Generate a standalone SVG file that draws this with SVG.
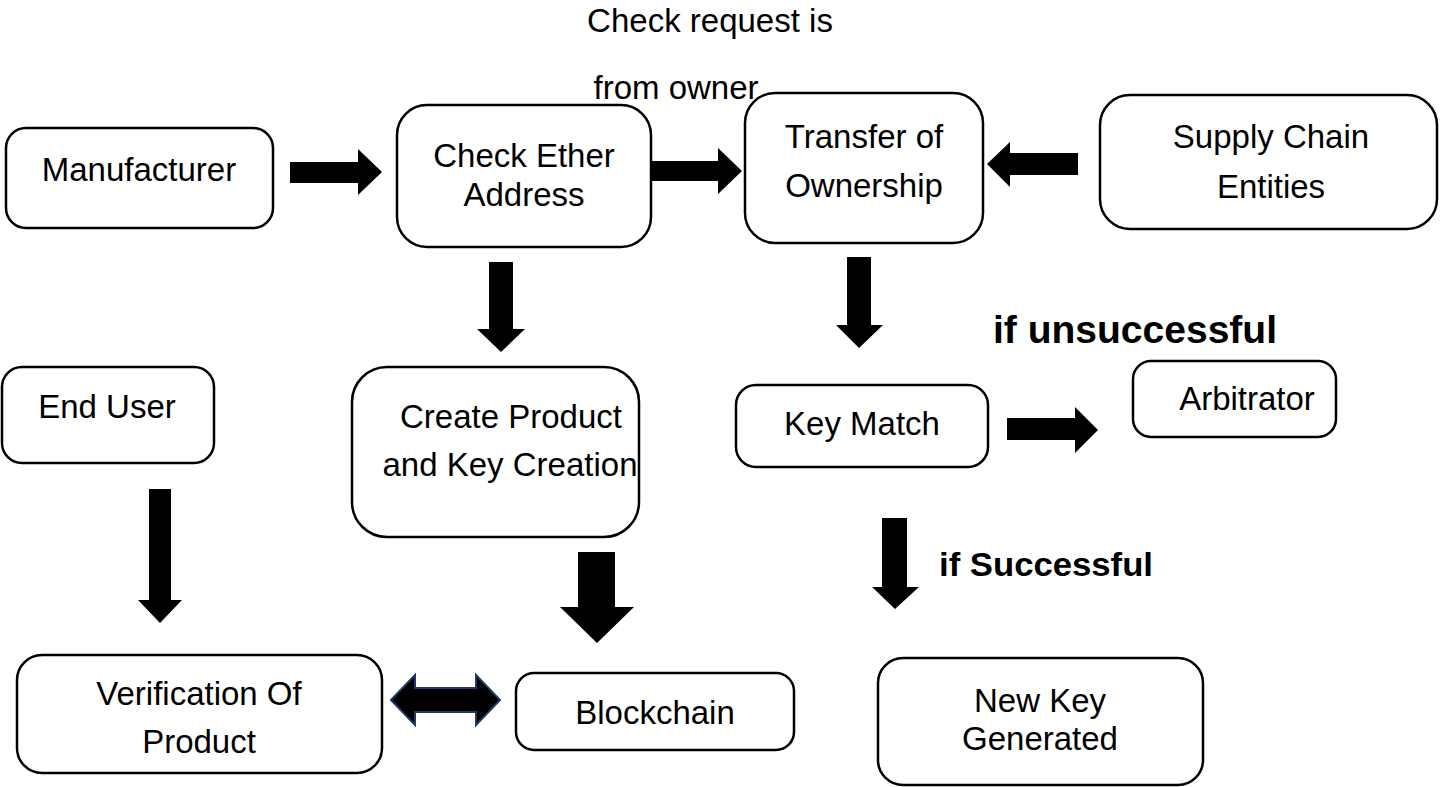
<svg xmlns="http://www.w3.org/2000/svg" width="1442" height="787" viewBox="0 0 1442 787">
<style>
.box{fill:#fff;stroke:#000;stroke-width:2.5}
.t{font-family:"Liberation Sans",Arial,sans-serif;font-size:33px;fill:#000;text-anchor:middle}
.b{font-family:"Liberation Sans",Arial,sans-serif;font-weight:bold;fill:#000}
.arr{fill:#000}
.dbl{fill:#000;stroke:#1f3864;stroke-width:2;stroke-linejoin:miter}
</style>
<rect width="1442" height="787" fill="#fff"/>
<g id="labels">
<text class="t" x="710" y="32">Check request is</text>
<text class="t" x="676" y="99">from owner</text>
<text class="b" x="993" y="343" font-size="38" textLength="284" lengthAdjust="spacingAndGlyphs">if unsuccessful</text>
<text class="b" x="939" y="576" font-size="34" textLength="214" lengthAdjust="spacingAndGlyphs">if Successful</text>
</g>
<g id="manufacturer"><rect class="box" x="6" y="128" width="267" height="100" rx="20"/><text class="t" x="139" y="181">Manufacturer</text></g>
<g id="check-ether"><rect class="box" x="397" y="105" width="254" height="142" rx="30"/><text class="t" x="524" y="167">Check Ether</text><text class="t" x="524" y="206">Address</text></g>
<g id="transfer"><rect class="box" x="745" y="93" width="238" height="150" rx="30"/><text class="t" x="864" y="148">Transfer of</text><text class="t" x="864" y="197">Ownership</text></g>
<g id="supply-chain"><rect class="box" x="1100" y="95" width="337" height="134" rx="30"/><text class="t" x="1271" y="148">Supply Chain</text><text class="t" x="1271" y="198">Entities</text></g>
<g id="end-user"><rect class="box" x="2" y="367" width="212" height="96" rx="20"/><text class="t" x="107" y="418">End User</text></g>
<g id="create-product"><rect class="box" x="352" y="367" width="287" height="170" rx="35"/><text class="t" x="511" y="428">Create Product</text><text class="t" x="510" y="476">and Key Creation</text></g>
<g id="key-match"><rect class="box" x="736" y="385" width="252" height="82" rx="20"/><text class="t" x="862" y="435">Key Match</text></g>
<g id="arbitrator"><rect class="box" x="1133" y="361" width="203" height="76" rx="18"/><text class="t" x="1247" y="410">Arbitrator</text></g>
<g id="verification"><rect class="box" x="17" y="655" width="365" height="118" rx="25"/><text class="t" x="199" y="705">Verification Of</text><text class="t" x="199" y="753">Product</text></g>
<g id="blockchain"><rect class="box" x="516" y="673" width="278" height="77" rx="18"/><text class="t" x="655" y="724">Blockchain</text></g>
<g id="new-key"><rect class="box" x="878" y="658" width="325" height="127" rx="25"/><text class="t" x="1040" y="712">New Key</text><text class="t" x="1040" y="750">Generated</text></g>
<g id="connectors">
<polygon class="arr" points="290,162 358,162 358,149 382,172 358,195 358,183 290,183"/>
<polygon class="arr" points="652,161 718,161 718,148 742,171 718,194 718,181 652,181"/>
<polygon class="arr" points="1078,153 1010,153 1010,142 987,164 1010,187 1010,175 1078,175"/>
<polygon class="arr" points="489,262 513,262 513,329 525,329 501,352 477,329 489,329"/>
<polygon class="arr" points="847,257 871,257 871,325 883,325 859,348 836,325 847,325"/>
<polygon class="arr" points="1007,418 1075,418 1075,407 1098,430 1075,453 1075,440 1007,440"/>
<polygon class="arr" points="149,489 171,489 171,600 182,600 160,623 138,600 149,600"/>
<polygon class="arr" points="578,552 615,552 615,607 634,607 597,643 560,607 578,607"/>
<polygon class="arr" points="882,518 907,518 907,587 919,587 895,609 872,587 882,587"/>
<polygon class="dbl" points="391,700 415,675 415,688 476,688 476,675 500,700 476,725 476,712 415,712 415,725"/>
</g>
</svg>
